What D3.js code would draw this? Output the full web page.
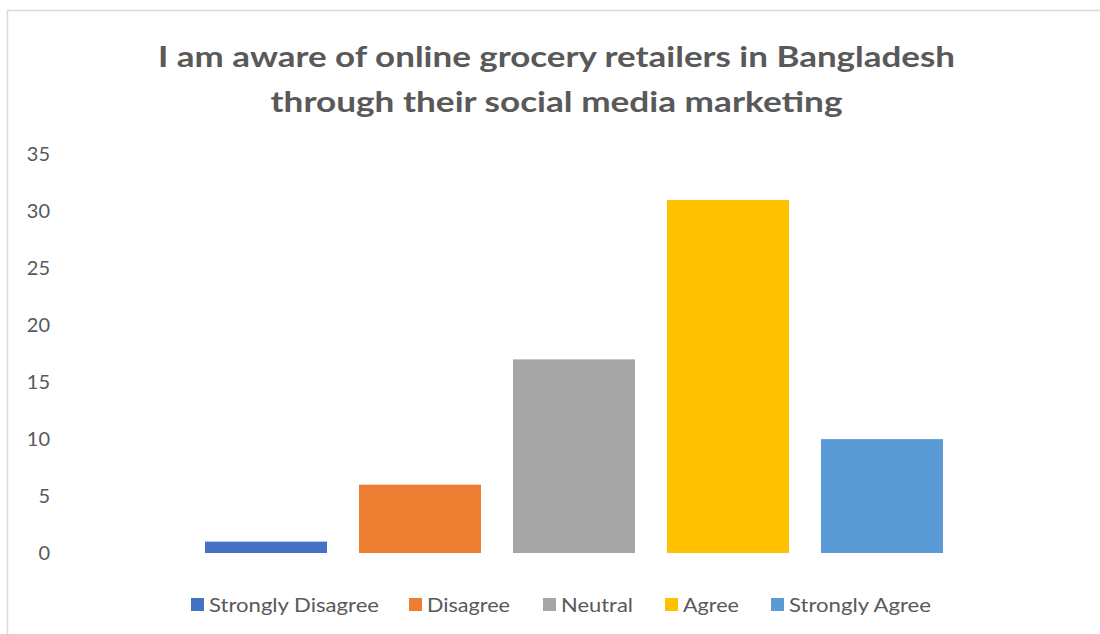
<!DOCTYPE html>
<html>
<head>
<meta charset="utf-8">
<script src="https://cdn.jsdelivr.net/npm/d3@7"></script>
<style>
  html, body { margin: 0; padding: 0; background: #fff; }
  svg { display: block; }
</style>
</head>
<body>
<svg id="chart" width="1100" height="634"></svg>
<script>
// Survey responses for the awareness statement
const categories = ["Strongly Disagree", "Disagree", "Neutral", "Agree", "Strongly Agree"];
const counts = [1, 6, 17, 31, 10];
const colors = ["#4472C4", "#ED7D31", "#A5A5A5", "#FFC000", "#5B9BD5"];
const yTicks = [0, 5, 10, 15, 20, 25, 30, 35];
const titleLines = [
  "I am aware of online grocery retailers in Bangladesh",
  "through their social media marketing"
];

const svg = d3.select("#chart");
const textColor = "#595959";
const font = "Lato, 'Open Sans', sans-serif";

// Chart frame (open to the right and bottom edges)
svg.append("rect")
  .attr("x", 7.5).attr("y", 10.5)
  .attr("width", 1200).attr("height", 700)
  .attr("fill", "#fff")
  .attr("stroke", "#d9d9d9").attr("stroke-width", 1.5);

// Title
const titleWidths = [797, 572];
const titleBaselines = [67, 112];
svg.append("g").selectAll("text")
  .data(titleLines)
  .join("text")
  .attr("x", 556.5)
  .attr("y", (d, i) => titleBaselines[i])
  .attr("text-anchor", "middle")
  .attr("font-family", font)
  .attr("font-weight", "bold")
  .attr("font-size", 28)
  .attr("fill", textColor)
  .attr("textLength", (d, i) => titleWidths[i])
  .attr("lengthAdjust", "spacingAndGlyphs")
  .text(d => d);

// Scales
const x = d3.scaleBand()
  .domain(categories)
  .range([189, 959])
  .paddingInner(0.2078)
  .paddingOuter(0.1039);

const y = d3.scaleLinear()
  .domain([0, 35])
  .range([553, 154.4]);

// Y axis labels only (no line, no ticks, no gridlines)
const yAxis = d3.axisLeft(y)
  .tickValues(yTicks)
  .tickSize(0)
  .tickPadding(0);

const yg = svg.append("g")
  .attr("transform", "translate(50,0)")
  .call(yAxis);
yg.select(".domain").remove();
yg.selectAll("text")
  .attr("font-family", font)
  .attr("font-size", 20)
  .attr("fill", textColor);

// Bars
svg.append("g").selectAll("rect")
  .data(categories)
  .join("rect")
  .attr("x", d => x(d))
  .attr("width", x.bandwidth())
  .attr("y", (d, i) => y(counts[i]))
  .attr("height", (d, i) => y(0) - y(counts[i]))
  .attr("fill", (d, i) => colors[i]);

// Legend
const legendMarkerX = [191, 409, 543, 665, 771];
const legendTextWidths = [170, 83, 72, 56, 142];
const legend = svg.append("g").selectAll("g")
  .data(categories)
  .join("g")
  .attr("transform", (d, i) => `translate(${legendMarkerX[i]},598)`);

legend.append("rect")
  .attr("width", 13).attr("height", 13)
  .attr("fill", (d, i) => colors[i]);

legend.append("text")
  .attr("x", 18)
  .attr("y", 14)
  .attr("font-family", font)
  .attr("font-size", 20)
  .attr("fill", textColor)
  .attr("textLength", (d, i) => legendTextWidths[i])
  .attr("lengthAdjust", "spacingAndGlyphs")
  .text(d => d);
</script>
</body>
</html>
